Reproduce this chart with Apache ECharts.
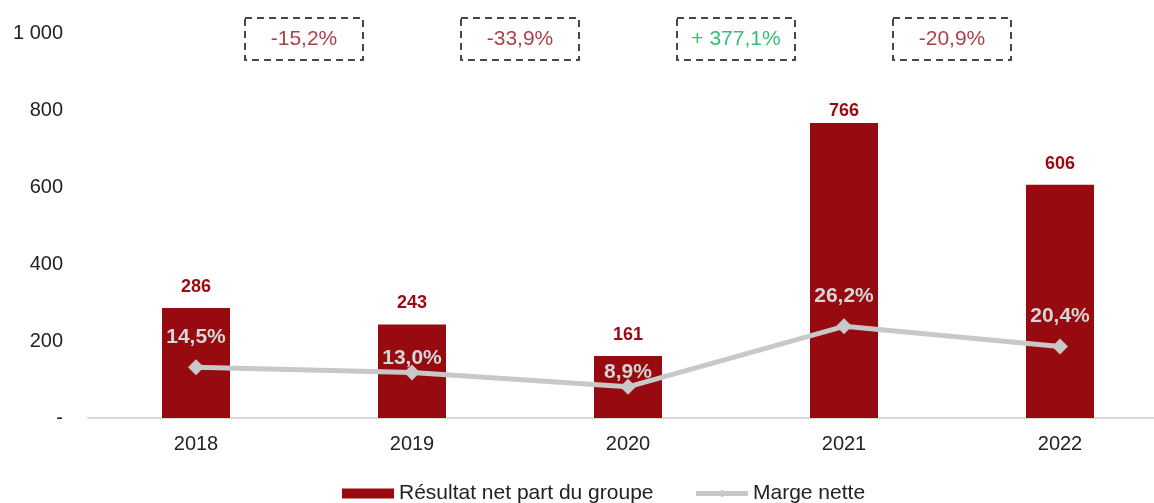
<!DOCTYPE html>
<html lang="fr" style="height: 100%">
<head>
  <meta charset="utf-8">
</head>
<body style="height: 100%; margin: 0">
  <div id="container" style="height: 100%"></div>

  <script type="text/javascript" src="https://cdn.jsdelivr.net/npm/echarts@6/dist/echarts.min.js"></script>

  <script type="text/javascript">
    var years = ['2018', '2019', '2020', '2021', '2022'];
    var resultat = [286, 243, 161, 766, 606];
    var marge = [14.5, 13.0, 8.9, 26.2, 20.4];
    var variations = ['-15,2%', '-33,9%', '+ 377,1%', '-20,9%'];
    var variationColors = ['#980d16', '#980d16', '#00b050', '#980d16'];

    var dom = document.getElementById('container');
    var myChart = echarts.init(dom, null, { renderer: 'canvas' });

    // boxes sit between two years: on a 0..5 value axis that is 1, 2, 3, 4
    var boxData = variations.map(function (v, i) {
      return {
        value: [i + 1, 1000],
        label: { formatter: v, color: variationColors[i] }
      };
    });

    // 2021 bar label sits tight on the bar in the original
    var resultatData = resultat.map(function (v, i) {
      return i === 3 ? { value: v, label: { distance: 3 } } : v;
    });

    // 2019 and 2020 labels were pulled down closer to the line in the original
    var margeData = marge.map(function (v, i) {
      return (i === 1 || i === 2) ? { value: v, label: { distance: -4 } } : v;
    });

    var option = {
      animation: false,
      textStyle: { fontFamily: 'Liberation Sans, Arial, sans-serif' },
      grid: { left: 88, width: 1080, top: 33, bottom: 85, containLabel: false, outerBoundsMode: 'none' },
      legend: {
        top: 478,
        left: 337,
        itemGap: 40,
        itemWidth: 52,
        itemHeight: 10,
        textStyle: { fontSize: 21, color: '#222' },
        data: [
          { name: 'Résultat net part du groupe', icon: 'rect' },
          { name: 'Marge nette', lineStyle: { width: 5 } }
        ]
      },
      xAxis: [
        {
          type: 'category',
          data: years,
          axisLine: { lineStyle: { color: '#d9d9d9', width: 2 } },
          axisTick: { show: false },
          axisLabel: { fontSize: 20, color: '#222', margin: 16 }
        },
        { type: 'value', min: 0, max: 5, show: false }
      ],
      yAxis: [
        {
          type: 'value',
          min: 0,
          max: 1000,
          interval: 200,
          splitLine: { show: false },
          axisLine: { show: false },
          axisTick: { show: false },
          axisLabel: {
            fontSize: 20,
            color: '#222',
            margin: 25,
            formatter: function (v) {
              if (v === 0) return '-';
              return v >= 1000 ? String(v).replace(/(\d)(\d{3})$/, '$1 $2') : String(v);
            }
          }
        },
        { type: 'value', min: 0, max: 110, show: false }
      ],
      series: [
        {
          name: 'Résultat net part du groupe',
          type: 'bar',
          data: resultatData,
          barWidth: 68,
          itemStyle: { color: '#960a10' },
          label: {
            show: true,
            position: 'top',
            distance: 12,
            fontSize: 18,
            fontWeight: 'bold',
            color: '#9b0a10'
          }
        },
        {
          name: 'Marge nette',
          type: 'line',
          yAxisIndex: 1,
          data: margeData,
          symbol: 'diamond',
          symbolSize: 16,
          lineStyle: { color: '#c8c8c8', width: 5 },
          itemStyle: { color: '#c8c8c8' },
          label: {
            show: true,
            position: 'top',
            distance: 12,
            fontSize: 21,
            fontWeight: 'bold',
            color: '#d6d6d6',
            formatter: function (p) {
              return p.value.toFixed(1).replace('.', ',') + '%';
            }
          },
          z: 3
        },
        {
          type: 'scatter',
          xAxisIndex: 1,
          yAxisIndex: 0,
          data: boxData,
          symbolSize: 0,
          silent: true,
          label: {
            show: true,
            position: 'inside',
            offset: [0, 6],
            fontSize: 21,
            width: 118,
            height: 42,
            align: 'center',
            verticalAlign: 'middle',
            lineHeight: 42,
            borderColor: '#1a1a1a',
            borderWidth: 2,
            borderType: [7, 5]
          }
        }
      ]
    };

    myChart.setOption(option);
    window.addEventListener('resize', myChart.resize);
  </script>
</body>
</html>
